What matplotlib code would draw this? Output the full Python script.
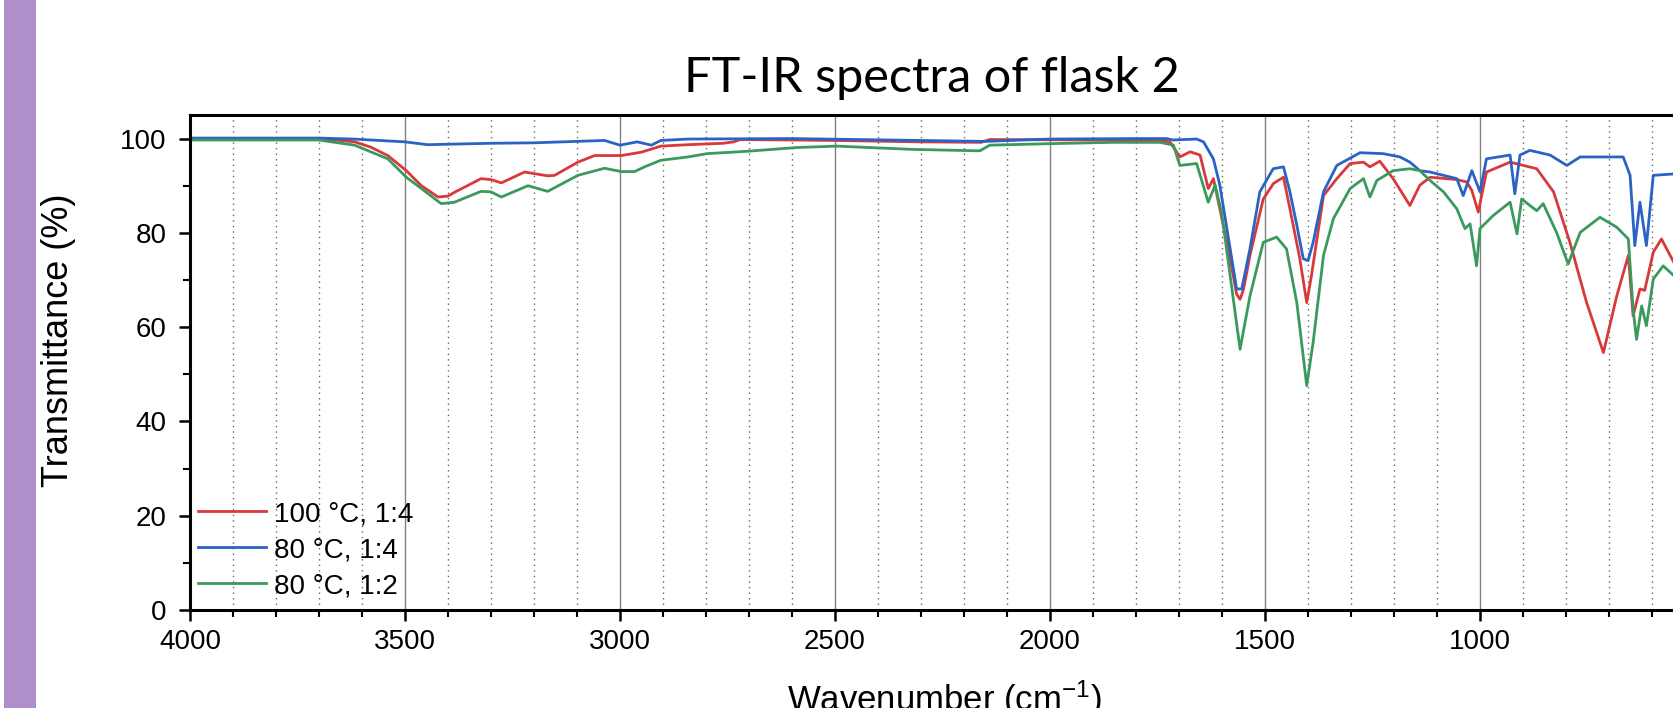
import matplotlib
matplotlib.use("Agg")
import matplotlib.pyplot as plt
from matplotlib.patches import Rectangle
from matplotlib.ticker import MultipleLocator

plt.rcParams["font.family"] = ["Liberation Sans", "DejaVu Sans"]
plt.rcParams["mathtext.default"] = "regular"

# 100 °C, 1:4
red_wn = [4000, 3800, 3700, 3650, 3617, 3580, 3540, 3497, 3462, 3423, 3400, 3385, 3323, 3300,
          3276, 3222, 3168, 3152, 3098, 3059, 2997, 2951, 2905, 2842, 2760, 2736, 2720, 2500,
          2300, 2160, 2140, 1900, 1760, 1737, 1721, 1698, 1674, 1651, 1632, 1620, 1605, 1581,
          1566, 1558, 1550, 1535, 1504, 1480, 1457, 1442, 1419, 1403, 1392, 1364, 1333, 1302,
          1271, 1256, 1233, 1202, 1163, 1140, 1116, 1054, 1031, 1019, 1004, 985, 930, 868,
          829, 791, 752, 713, 682, 655, 644, 628, 617, 597, 578, 549, 520]
red_t = [99.8, 99.8, 99.8, 99.6, 99.3, 98.2, 96.4, 93.2, 90.0, 87.6, 87.8, 88.6, 91.5, 91.3,
         90.6, 92.9, 92.1, 92.2, 95.0, 96.4, 96.4, 97.1, 98.4, 98.7, 99.0, 99.3, 99.8, 99.6,
         99.3, 99.2, 99.8, 99.7, 99.6, 99.5, 99.3, 96.1, 97.2, 96.5, 89.4, 91.5, 85.1, 74.5,
         67.0, 65.9, 68.0, 75.2, 87.2, 90.5, 91.8, 85.1, 74.5, 65.2, 70.9, 87.9, 91.5, 94.7,
         95.0, 94.0, 95.2, 91.5, 85.8, 90.1, 91.8, 91.3, 90.8, 89.0, 84.4, 92.9, 95.0, 93.6,
         88.7, 78.0, 65.2, 54.6, 66.6, 75.2, 62.4, 68.1, 67.8, 75.9, 78.7, 73.7, 71.0]

# 80 °C, 1:4
blue_wn = [4000, 3700, 3620, 3560, 3500, 3447, 3400, 3300, 3200, 3036, 3000, 2960, 2927, 2905,
           2842, 2600, 2300, 2150, 2000, 1800, 1729, 1714, 1659, 1643, 1620, 1605, 1581, 1566,
           1554, 1535, 1512, 1481, 1457, 1442, 1426, 1411, 1400, 1388, 1364, 1333, 1279, 1225,
           1186, 1163, 1140, 1116, 1054, 1039, 1019, 1000, 985, 930, 919, 907, 884, 837, 798,
           767, 667, 651, 640, 628, 613, 597, 549, 520]
blue_t = [100.1, 100.1, 99.9, 99.6, 99.3, 98.7, 98.8, 99.0, 99.1, 99.6, 98.6, 99.3, 98.6, 99.6,
          99.9, 100.0, 99.6, 99.4, 99.9, 100.0, 100.0, 99.7, 99.9, 99.3, 95.7, 90.1, 76.6, 68.1,
          68.1, 76.6, 88.7, 93.6, 94.0, 88.7, 81.6, 74.5, 74.1, 78.0, 88.7, 94.3, 97.0, 96.8,
          96.1, 95.0, 93.2, 92.9, 91.5, 87.9, 93.2, 88.7, 95.7, 96.5, 88.3, 96.5, 97.5, 96.5, 94.3,
          96.1, 96.1, 92.2, 77.3, 86.5, 77.3, 92.2, 92.5, 92.5]

# 80 °C, 1:2
green_wn = [4000, 3700, 3671, 3617, 3540, 3497, 3462, 3416, 3385, 3323, 3300, 3276, 3214, 3168,
            3098, 3036, 2997, 2966, 2943, 2905, 2842, 2798, 2705, 2589, 2496, 2318, 2163, 2140,
            2008, 1853, 1744, 1713, 1698, 1659, 1632, 1616, 1601, 1581, 1558, 1535, 1504, 1473,
            1450, 1426, 1403, 1388, 1364, 1341, 1302, 1271, 1256, 1240, 1202, 1163, 1140, 1116,
            1085, 1054, 1035, 1023, 1008, 1000, 969, 930, 914, 903, 884, 868, 853, 822, 795,
            767, 721, 682, 655, 644, 636, 624, 613, 597, 574, 549, 520]
green_t = [99.7, 99.7, 99.3, 98.6, 95.7, 91.8, 89.4, 86.2, 86.5, 88.8, 88.7, 87.6, 90.0, 88.8,
           92.2, 93.7, 93.0, 93.0, 94.0, 95.4, 96.1, 96.8, 97.3, 98.1, 98.4, 97.7, 97.4, 98.6,
           98.9, 99.2, 99.2, 98.6, 94.3, 94.7, 86.5, 90.1, 84.4, 70.9, 55.3, 66.6, 78.0, 79.1,
           76.6, 65.2, 47.6, 56.8, 75.2, 83.0, 89.4, 91.5, 87.6, 91.1, 93.2, 93.6, 93.2, 91.1,
           88.7, 85.1, 80.9, 81.9, 73.0, 80.9, 83.7, 86.5, 79.8, 87.2, 85.8, 84.7, 86.2, 80.1, 73.4,
           80.1, 83.3, 81.2, 78.7, 63.8, 57.4, 64.5, 60.3, 70.2, 73.0, 70.9, 69.0]

labels = ["100 °C, 1:4", "80 °C, 1:4", "80 °C, 1:2"]

fig = plt.figure(figsize=(16.74, 7.08), dpi=100)
fig.patches.append(Rectangle((4 / 1674, 0), 32 / 1674, 1, transform=fig.transFigure,
                             facecolor="#b08ecb", edgecolor="none", zorder=0))

ax = fig.add_axes([190 / 1674, 1 - 610 / 708, 1505 / 1674, 495 / 708])
ax.plot(red_wn, red_t, color="#d8393b", lw=2, label=labels[0])
ax.plot(blue_wn, blue_t, color="#2a63c4", lw=2, label=labels[1])
ax.plot(green_wn, green_t, color="#3a9a5e", lw=2, label=labels[2])

ax.set_xlim(4000, 500)
ax.set_ylim(0, 105)
ax.xaxis.set_major_locator(MultipleLocator(500))
ax.xaxis.set_minor_locator(MultipleLocator(100))
ax.yaxis.set_major_locator(MultipleLocator(20))
ax.yaxis.set_minor_locator(MultipleLocator(10))
ax.set_axisbelow(True)
ax.grid(which="major", axis="x", color="#808080", lw=1.0, ls="-")
ax.grid(which="minor", axis="x", color="#666666", lw=1.0, ls=(0, (1, 3)))
ax.grid(which="major", axis="y", visible=False)

for s in ["left", "bottom", "top"]:
    ax.spines[s].set_linewidth(2.2)
ax.spines["right"].set_visible(False)
ax.tick_params(which="major", direction="out", length=8, width=1.8, labelsize=20, pad=6)
ax.tick_params(which="minor", direction="out", length=5, width=1.5)
ax.tick_params(axis="y", which="major", pad=9)

ax.legend(loc="lower left", bbox_to_anchor=(0.005, 0.022), frameon=False, fontsize=20,
          handlelength=2.45, handletextpad=0.3, labelspacing=0.36, borderaxespad=0, borderpad=0)

fig.text(932 / 1674, 1 - 92 / 708, "FT-IR spectra of flask 2", family="Lato", fontsize=35,
         ha="center", va="baseline")
fig.text(59 / 1674, 1 - 340 / 708, "Transmittance (%)", rotation=90, fontsize=26,
         ha="center", va="center")
fig.text(944 / 1674, 1 - 711 / 708, "Wavenumber (cm$^{-1}$)", fontsize=25,
         ha="center", va="baseline")

fig.savefig("out.png", dpi=100)
